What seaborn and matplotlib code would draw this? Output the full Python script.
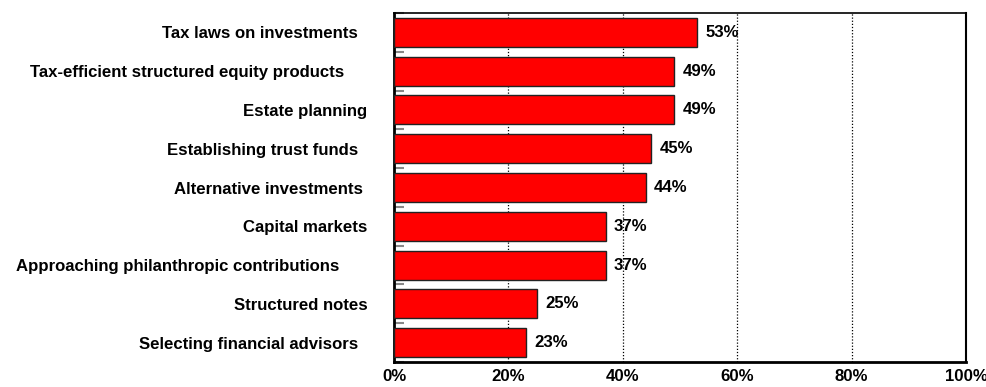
import matplotlib
matplotlib.use("Agg")
import matplotlib.pyplot as plt
import seaborn as sns
import pandas as pd
import numpy as np

categories = [
    "Tax laws on investments  ",
    "Tax-efficient structured equity products     ",
    "Estate planning",
    "Establishing trust funds  ",
    "Alternative investments ",
    "Capital markets",
    "Approaching philanthropic contributions      ",
    "Structured notes",
    "Selecting financial advisors  ",
]
values = [53, 49, 49, 45, 44, 37, 37, 25, 23]
x_ticks = [0, 20, 40, 60, 80, 100]
x_tick_labels = ["0%", "20%", "40%", "60%", "80%", "100%"]

df = pd.DataFrame({"topic": categories, "share": values})

sns.set_theme(style="white")
plt.rcParams["font.family"] = ["Liberation Sans", "DejaVu Sans"]
plt.rcParams["font.weight"] = "bold"
plt.rcParams["text.color"] = "black"
plt.rcParams["xtick.color"] = "black"
plt.rcParams["ytick.color"] = "black"

FS = 12.1

fig = plt.figure(figsize=(9.86, 3.87), dpi=100)
ax = fig.add_axes([0.3996, 0.0646, 0.5801, 0.9018])

sns.barplot(data=df, x="share", y="topic", orient="h", color="#ff0000",
            saturation=1, width=0.75, edgecolor="#222222", linewidth=1.0,
            ax=ax, zorder=3)

ax.set_xlim(0, 100)
ax.set_ylim(len(categories) - 0.5, -0.5)
ax.set_xticks(x_ticks)
ax.set_xticklabels(x_tick_labels, fontsize=FS, fontweight="bold")
ax.tick_params(axis="x", length=0, pad=5, colors="black")
ax.tick_params(axis="y", which="major", length=0, pad=19, labelsize=FS,
               labelcolor="black")
for lab in ax.get_yticklabels():
    lab.set_fontweight("bold")
ax.set_yticks(np.arange(-0.5, len(categories), 1.0), minor=True)
ax.tick_params(axis="y", which="minor", left=True, direction="in", length=7,
               width=1.5, color="#888888")
ax.set_xlabel("")
ax.set_ylabel("")

for x in x_ticks[1:-1]:
    ax.axvline(x, color="black", linestyle=(0, (1, 1.5)), linewidth=0.9, zorder=1)

for side in ["left", "bottom", "top", "right"]:
    ax.spines[side].set_visible(True)
    ax.spines[side].set_color("black")
ax.spines["left"].set_linewidth(2)
ax.spines["bottom"].set_linewidth(2)
ax.spines["top"].set_linewidth(1.2)
ax.spines["right"].set_linewidth(1.5)

for i, v in enumerate(values):
    ax.annotate(f"{v}%", xy=(v, i), xytext=(6, 0), textcoords="offset points",
                ha="left", va="center", fontsize=FS, fontweight="bold",
                color="black")

fig.savefig("out.png", dpi=100)
